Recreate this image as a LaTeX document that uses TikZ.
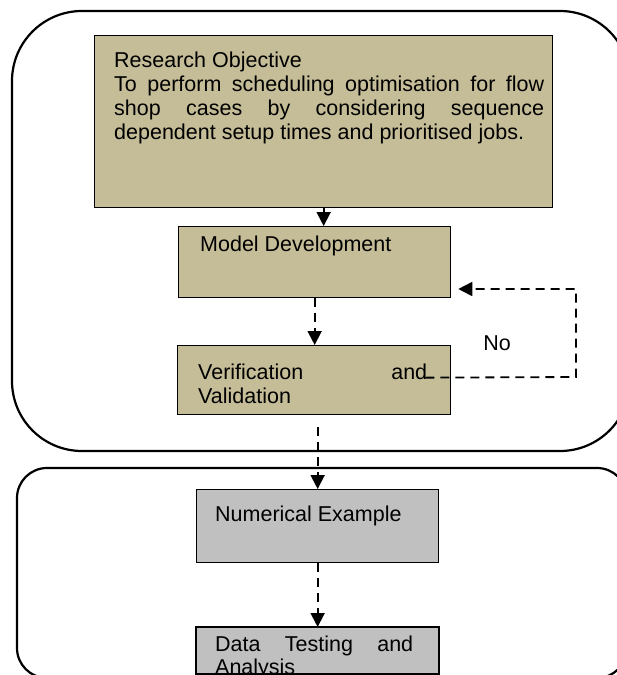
\documentclass[tikz,border=0pt]{standalone}
\usepackage{fontspec}
\setmainfont{Liberation Sans}
\usetikzlibrary{arrows.meta}
\definecolor{tanfill}{HTML}{C4BD97}
\definecolor{grayfill}{HTML}{C0C0C0}
\begin{document}
\begin{tikzpicture}[x=1pt,y=-1pt,
  tanbox/.style={draw=black, line width=1.3pt, fill=tanfill, inner sep=0pt, anchor=north west},
  graybox/.style={draw=black, line width=1.3pt, fill=grayfill, inner sep=0pt, anchor=north west},
  txt/.style={font=\fontsize{21.5}{24}\selectfont, inner sep=0pt, anchor=north west, align=justify},
  lbl/.style={font=\fontsize{21.5}{24}\selectfont, inner sep=0pt},
  container/.style={draw=black, line width=2.2pt},
  flow/.style={draw=black, line width=1.8pt, dash pattern=on 9pt off 6pt, -{Triangle[length=14pt,width=14pt]}},
]
\useasboundingbox (0,0) rectangle (617,675);
% containers
\draw[container, rounded corners=70pt] (12,11) rectangle (630,451);
\draw[container, rounded corners=30pt] (17,468) rectangle (627,678);
% boxes
\node[tanbox, minimum width=458pt, minimum height=172pt] (obj) at (94,35) {};
\node[tanbox, minimum width=272pt, minimum height=71pt] (dev) at (178,226) {};
\node[tanbox, minimum width=273pt, minimum height=69pt] (ver) at (177,345) {};
\node[graybox, minimum width=242pt, minimum height=73pt] (num) at (196,489) {};
\node[graybox, minimum width=242pt, minimum height=46pt] (dta) at (196,627) {};
% texts
\node[txt, text width=430pt] (objt) at (114,52) {Research Objective\\To perform scheduling optimisation for flow\linebreak shop cases by considering sequence\linebreak dependent setup times and prioritised jobs.};
\node[lbl, anchor=base west] (devt) at (200,251) {Model Development};
\node[txt, text width=229pt] (vert) at (198,364) {Verification and\linebreak Validation};
\node[lbl, anchor=base west] (numt) at (215,521) {Numerical Example};
\begin{scope}
  \clip (dta.south west) rectangle (dta.north east);
  \node[txt, text width=198pt, font=\fontsize{21.5}{23}\selectfont] (dtat) at (215,636) {Data Testing and\linebreak Analysis};
\end{scope}
\draw[line width=1.3pt] (dta.south west) rectangle (dta.north east);
% connectors
\draw[flow] (obj.south) -- (obj.south |- dev.north);
\draw[flow] (dev.south) -- (dev.south |- ver.north);
\draw[flow] ([yshift=-12pt]ver.south -| num.north) -- (num.north);
\draw[flow] (num.south) -- (dta.north);
\coordinate (fb1) at (576,377);
\coordinate (fb2) at (576,289);
\draw[flow] ([xshift=-26pt,yshift=2.5pt]ver.east) -- (fb1) -- (fb2) -- ([xshift=7pt]fb2 -| dev.east);
\node[lbl] (no) at (497,343) {No};
\end{tikzpicture}
\end{document}
